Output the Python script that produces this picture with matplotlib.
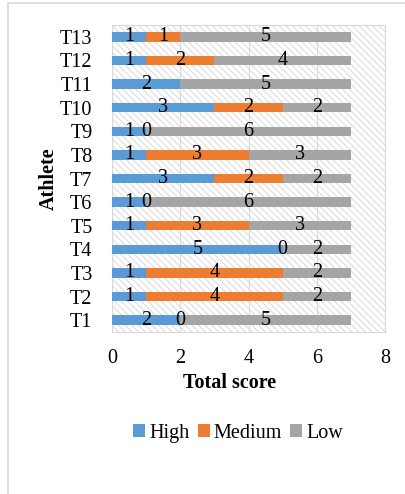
import numpy as np
import matplotlib
matplotlib.use("Agg")
import matplotlib.pyplot as plt
from matplotlib.patches import Rectangle

athletes = ["T1", "T2", "T3", "T4", "T5", "T6", "T7", "T8", "T9", "T10", "T11", "T12", "T13"]
high = [2, 1, 1, 5, 1, 1, 3, 1, 1, 3, 2, 1, 1]
medium = [0, 4, 4, 0, 3, 0, 2, 3, 0, 2, np.nan, 2, 1]   # T11 has no medium label
low = [5, 2, 2, 2, 3, 6, 2, 3, 6, 2, 5, 4, 5]

colors = ["#5B9BD5", "#ED7D31", "#A5A5A5"]
plt.rcParams['font.family'] = ['Liberation Serif', 'DejaVu Serif']
plt.rcParams['hatch.linewidth'] = 0.7
fs = 14.5

fig = plt.figure(figsize=(4.05, 4.94), dpi=100)
ax = fig.add_axes([112/405, 1-332/494, 273/405, 307/494])

# outer chart frame
fig.patches.append(Rectangle((8/405, -0.1), 1.2, 1 - 3/494 + 0.1, transform=fig.transFigure,
                             fill=False, edgecolor="#D9D9D9", lw=1.2))

# hatched plot area
ax.add_patch(Rectangle((0, 0), 1, 1, transform=ax.transAxes, facecolor="white",
                       edgecolor="#D9D9D9", hatch="\\\\\\\\\\", lw=0, zorder=0))

y = np.arange(len(athletes))
h = np.array(high, float)
m = np.nan_to_num(np.array(medium, float))
l = np.array(low, float)

series = [("High", h, 0), ("Medium", m, h), ("Low", l, h + m)]
raw = [high, medium, low]
for (name, vals, left), c, rv in zip(series, colors, raw):
    ax.barh(y, vals, left=left, height=0.4, color=c, label=name, zorder=3)
    for yi, v, lf, r in zip(y, vals, np.broadcast_to(left, vals.shape), rv):
        if isinstance(r, float) and np.isnan(r):
            continue
        ax.text(lf + v / 2, yi, f"{int(r)}", ha="center", va="center", fontsize=fs, zorder=4)

ax.set_xlim(0, 8)
ax.set_ylim(-0.5, len(athletes) - 0.5)
ax.set_xticks([0, 2, 4, 6, 8])
ax.set_yticks(y)
ax.set_yticklabels(athletes)
ax.tick_params(length=0, labelsize=fs)
ax.tick_params(axis='x', pad=12)
ax.tick_params(axis='y', pad=14)
ax.grid(axis='x', color="#D9D9D9", lw=0.8, zorder=1)
ax.set_axisbelow(False)
for s in ax.spines.values():
    s.set_color("#D9D9D9")

ax.set_xlabel("Total score", fontsize=fs, fontweight="bold")
ax.xaxis.set_label_coords((230 - 112) / 273, -0.135)
ax.set_ylabel("Athlete", fontsize=fs, fontweight="bold")
ax.yaxis.set_label_coords((59 - 112) / 273, 0.5)

fig.legend(loc="center", bbox_to_anchor=(238/405, 1-433/494), ncol=3, frameon=False,
           fontsize=fs, handlelength=0.6, handleheight=0.6, handletextpad=0.2, columnspacing=0.4)

fig.savefig("out.png", dpi=100)
